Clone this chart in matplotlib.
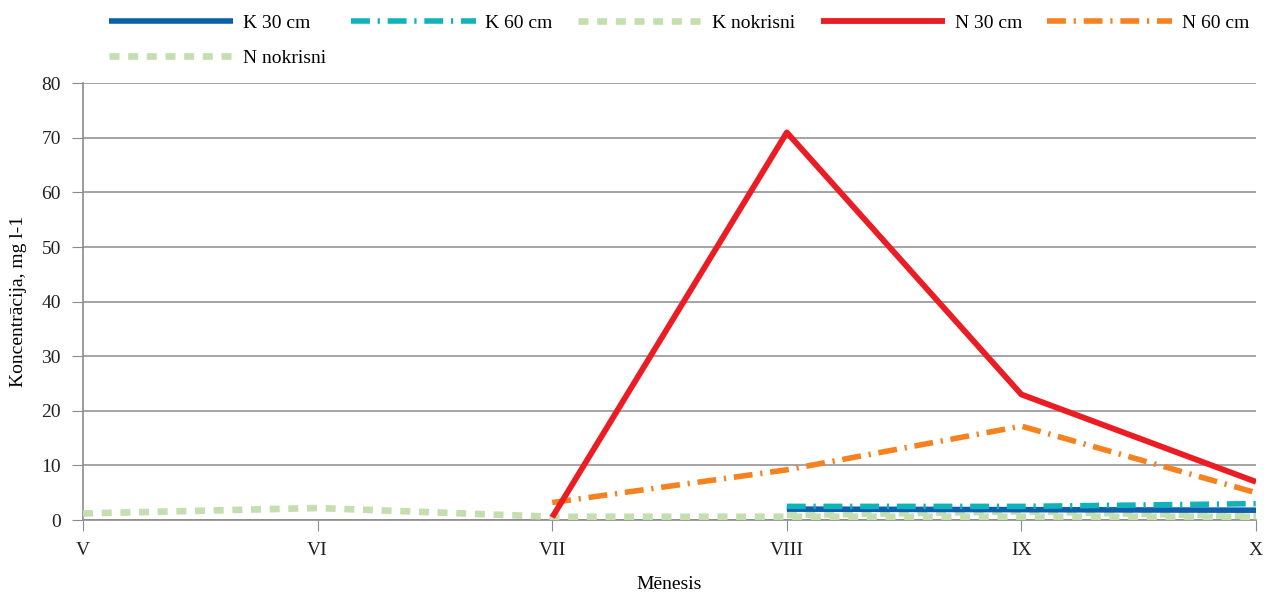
import matplotlib
matplotlib.use("Agg")
import matplotlib.pyplot as plt

months = ["V", "VI", "VII", "VIII", "IX", "X"]
x_all = list(range(len(months)))

k30 = [None, None, None, 2.0, 1.9, 1.8]
k60 = [None, None, None, 2.5, 2.5, 3.0]
k_nokrisni = [None, None, None, 0.9, 1.6, 0.7]
n30 = [None, None, 0.5, 71.0, 23.0, 7.0]
n60 = [None, None, 3.2, 9.2, 17.2, 5.0]
n_nokrisni = [1.2, 2.2, 0.6, 0.6, 0.6, 0.6]

plt.rcParams["font.family"] = ["Liberation Serif", "DejaVu Serif"]

BLUE = "#0D5FAA"; TEAL = "#10B3BA"; GREEN = "#C3DFB0"
RED = "#EC1C24"; ORANGE = "#F5821F"; GRID = "#8C8C8C"

fig = plt.figure(figsize=(12.66, 5.95), dpi=100)
ax = fig.add_axes([0.0656, 0.126, 0.9265, 0.734])


def pts(vals):
    xs = [i for i, v in zip(x_all, vals) if v is not None]
    ys = [v for v in vals if v is not None]
    return xs, ys


series = [
    ("K 30 cm", k30, dict(color=BLUE, lw=4.0, ls="-", zorder=4)),
    ("K 60 cm", k60, dict(color=TEAL, lw=4.0, ls=(0, (3.4, 1.4, 0.4, 1.4)), zorder=5)),
    ("K nokrisni", k_nokrisni, dict(color=GREEN, lw=4.8, ls=(0, (1.5, 1.3)), zorder=3)),
    ("N 30 cm", n30, dict(color=RED, lw=4.2, ls="-", zorder=6)),
    ("N 60 cm", n60, dict(color=ORANGE, lw=4.0, ls=(0, (3.4, 1.4, 0.4, 1.4)), zorder=5)),
    ("N nokrisni", n_nokrisni, dict(color=GREEN, lw=4.8, ls=(0, (1.5, 1.3)), zorder=3)),
]
handles = {}
for label, vals, style in series:
    xs, ys = pts(vals)
    handles[label], = ax.plot(xs, ys, label=label, solid_capstyle="butt",
                              dash_capstyle="butt", **style)

ax.set_xlim(0, 5)
ax.set_ylim(0, 80)
ax.set_yticks(range(0, 81, 10))
ax.set_xticks(x_all)
ax.set_xticklabels(months)
ax.yaxis.grid(True, color=GRID, lw=1.1)
ax.set_axisbelow(True)
for s in ["top", "right"]:
    ax.spines[s].set_visible(False)
for s in ["left", "bottom"]:
    ax.spines[s].set_color(GRID)
    ax.spines[s].set_linewidth(1.2)
ax.tick_params(axis="y", length=8, color=GRID, labelsize=14, labelcolor="#222222", pad=8)
ax.tick_params(axis="x", length=8, color=GRID, labelsize=14, labelcolor="#222222", pad=8)
ax.set_xlabel("Mēnesis", fontsize=14, labelpad=12)
ax.set_ylabel("Koncentrācija, mg l-1", fontsize=14, labelpad=10)

# column-major fill: first column holds two entries
order = ["K 30 cm", "N nokrisni", "K 60 cm", "K nokrisni", "N 30 cm", "N 60 cm"]
fig.legend([handles[k] for k in order], order, loc="upper left",
           bbox_to_anchor=(0.072, 1.005), ncol=5, frameon=False,
           fontsize=14, handlelength=6.4, handletextpad=0.5, columnspacing=1.3,
           labelspacing=0.9)

plt.savefig("out.png", dpi=100, facecolor="white")
